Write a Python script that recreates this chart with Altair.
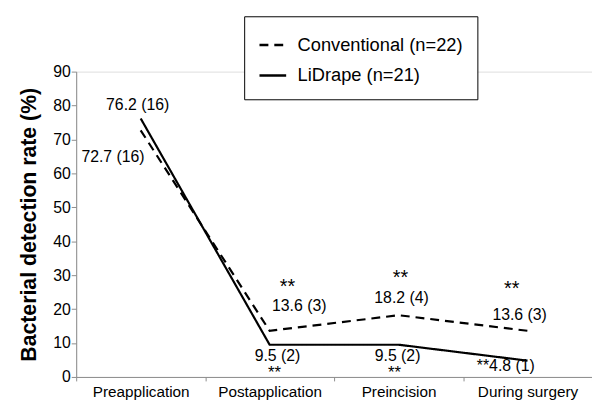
import altair as alt
import pandas as pd

stages = ["Preapplication", "Postapplication", "Preincision", "During surgery"]
series_names = ["Conventional (n=22)", "LiDrape (n=21)"]
conventional = [72.7, 13.6, 18.2, 13.6]
lidrape = [76.2, 9.5, 9.5, 4.8]
conv_labels = ["72.7 (16)", "13.6 (3)", "18.2 (4)", "13.6 (3)"]
lid_labels = ["76.2 (16)", "9.5 (2)", "9.5 (2)", "**4.8 (1)"]
conv_stars = ["", "**", "**", "**"]
lid_stars = ["", "**", "**", ""]

FONT = "Liberation Sans"

rows = []
for s, v in zip(stages, conventional):
    rows.append({"stage": s, "series": series_names[0], "value": v})
for s, v in zip(stages, lidrape):
    rows.append({"stage": s, "series": series_names[1], "value": v})
df = pd.DataFrame(rows)

xenc = alt.X(
    "stage:N",
    sort=stages,
    bandPosition=0.5,
    scale=alt.Scale(type="band", domain=stages, paddingInner=0, paddingOuter=0),
    axis=alt.Axis(
        title=None,
        labelAngle=0,
        tickBand="extent",
        domainColor="#8c8c8c",
        tickColor="#8c8c8c",
        tickSize=4,
        labelFont=FONT,
        labelFontSize=15.5,
        labelColor="black",
        labelPadding=4,
        labelOverlap=False,
    ),
)
yenc = alt.Y(
    "value:Q",
    scale=alt.Scale(domain=[0, 90], nice=False),
    axis=alt.Axis(
        title="Bacterial detection rate (%)",
        values=list(range(0, 91, 10)),
        grid=False,
        domainColor="#8c8c8c",
        tickColor="#8c8c8c",
        tickSize=5,
        labelFont=FONT,
        labelFontSize=16,
        labelColor="black",
        labelPadding=1,
        labelOverlap=False,
        titleFont=FONT,
        titleFontSize=21.5,
        titleFontWeight="bold",
        titleColor="black",
        titlePadding=12,
    ),
)

lines = alt.Chart(df).mark_line(color="black", strokeWidth=2.2).encode(
    x=xenc,
    y=yenc,
    strokeDash=alt.StrokeDash(
        "series:N",
        scale=alt.Scale(domain=series_names, range=[[9, 6], [1, 0]]),
        legend=alt.Legend(
            title=None,
            orient="none",
            legendX=170,
            legendY=-56,
            strokeColor="black",
            padding=14,
            symbolType="stroke",
            symbolSize=729,
            symbolStrokeWidth=2.5,
            symbolStrokeColor="black",
            labelFont=FONT,
            labelFontSize=18.5,
            labelColor="black",
            labelLimit=400,
            rowPadding=6,
            labelOffset=10,
            fillColor="white",
        ),
    ),
)

layers = [lines]

def add_labels(texts, values, offsets, size):
    for s, t, v, (dx, dy) in zip(stages, texts, values, offsets):
        if not t:
            continue
        d = pd.DataFrame({"stage": [s], "value": [v], "label": [t]})
        layers.append(
            alt.Chart(d)
            .mark_text(font=FONT, fontSize=size, color="black", dx=dx, dy=dy,
                       align="center", baseline="middle")
            .encode(x=xenc, y=yenc, text="label:N")
        )

add_labels(conv_labels, conventional, [(-28, 27), (30, -25), (3, -17), (-8, -16)], 16)
add_labels(conv_stars, conventional, [(0, 0), (18, -44), (2, -38), (-16, -42)], 20)
add_labels(lid_labels, lidrape, [(-3, -14), (8, 11), (-1, 11), (-22, 5)], 16)
add_labels(lid_stars, lidrape, [(0, 0), (5, 29), (-4, 29), (0, 0)], 17)

chart = (
    alt.layer(*layers)
    .properties(
        width=522,
        height=309,
        autosize=alt.AutoSizeParams(type="none"),
        padding={"left": 69, "top": 62, "right": 0, "bottom": 25},
    )
    .configure_view(stroke=None)
    .configure(background="white")
)

chart.save("out.html", embed_options={"renderer": "svg", "actions": False})
